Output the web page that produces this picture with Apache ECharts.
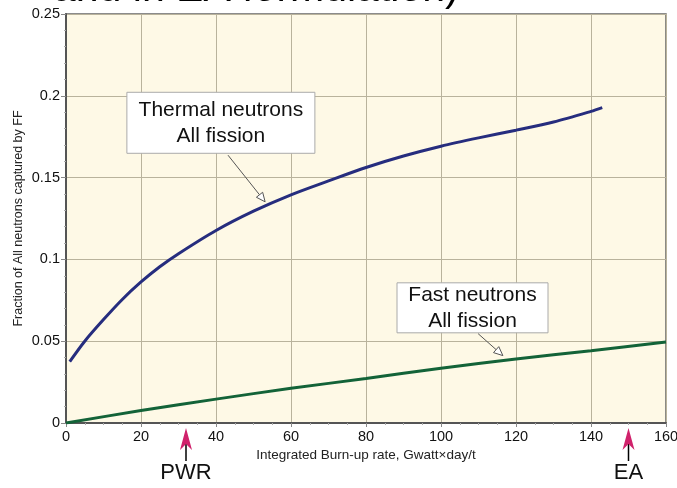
<!DOCTYPE html>
<html><head><meta charset="utf-8">
<script src="https://cdn.jsdelivr.net/npm/echarts@6/dist/echarts.min.js"></script>
<style>html,body{margin:0;padding:0;background:#fff}#c{width:677px;height:488px}</style>
</head><body><div id="c"></div>
<script>
// Data (burn-up GWd/t vs fraction of neutrons captured by FF)
var thermalX = [1, 5, 10, 15, 20, 25, 30, 40, 50, 60, 70, 80, 90, 100, 110, 120, 130, 140, 143];
var thermalY = [0.0375, 0.050, 0.0632, 0.0755, 0.0862, 0.0955, 0.1035, 0.1177, 0.1295, 0.1395, 0.148, 0.1562, 0.1632, 0.1692, 0.1743, 0.179, 0.184, 0.1905, 0.1928];
var fastX = [0, 20, 40, 60, 80, 100, 120, 140, 160];
var fastY = [0, 0.0076, 0.0146, 0.0212, 0.0272, 0.0335, 0.0391, 0.0442, 0.0495];
var xTicks = [0, 20, 40, 60, 80, 100, 120, 140, 160];
var yTicks = [0, 0.05, 0.1, 0.15, 0.2, 0.25];
var reactorNames = ['PWR', 'EA'];
var reactorBurnup = [32, 150];
var noteTexts = ['Thermal neutrons\nAll fission', 'Fast neutrons\nAll fission'];
var noteCenters = [[41.3, 0.1835], [108.4, 0.0704]];
var noteArrowFrom = [[43.2, 0.1637], [109.9, 0.0546]];
var noteArrowTo = [[53.1, 0.1352], [116.5, 0.0412]];

function zip(a, b) { return a.map(function (v, i) { return [v, b[i]]; }); }

var chart = echarts.init(document.getElementById('c'));
var FONT = 'Liberation Sans, Arial, sans-serif';
chart.setOption({
  animation: false,
  backgroundColor: '#ffffff',
  grid: { left: 66, right: 11, top: 14, bottom: 65, outerBoundsMode: 'none', containLabel: false,
    show: true, backgroundColor: '#fef9e6', borderColor: '#666', borderWidth: 1.5 },
  xAxis: {
    type: 'value', min: xTicks[0], max: xTicks[xTicks.length - 1], interval: 20,
    name: 'Integrated Burn-up rate, Gwatt×day/t', nameLocation: 'middle', nameGap: 25, nameMoveOverlap: false,
    nameTextStyle: { fontFamily: FONT, fontSize: 13.5, color: '#222' },
    axisLine: { show: true, onZero: false, lineStyle: { color: '#555', width: 2 } },
    axisTick: { show: true, length: 4, lineStyle: { color: '#888' } },
    minorTick: { show: true, splitNumber: 4, length: 2, lineStyle: { color: '#aaa' } },
    axisLabel: { fontFamily: FONT, fontSize: 14.5, color: '#111', margin: 6 },
    splitLine: { show: true, lineStyle: { color: '#b9b39c', width: 1 } }
  },
  yAxis: {
    type: 'value', min: yTicks[0], max: yTicks[yTicks.length - 1], interval: 0.05,
    name: 'Fraction of All neutrons captured by FF', nameLocation: 'middle', nameGap: 41, nameMoveOverlap: false,
    nameTextStyle: { fontFamily: FONT, fontSize: 12.5, color: '#222' },
    axisLine: { show: true, onZero: false, lineStyle: { color: '#555', width: 2 } },
    axisTick: { show: true, length: 5, lineStyle: { color: '#888' } },
    minorTick: { show: true, splitNumber: 5, length: 2, lineStyle: { color: '#aaa' } },
    axisLabel: { fontFamily: FONT, fontSize: 14.5, color: '#111', margin: 6,
      formatter: function (v) { return String(+v.toFixed(2)); } },
    splitLine: { show: true, lineStyle: { color: '#b9b39c', width: 1 } }
  },
  series: [
    { type: 'line', data: zip(thermalX, thermalY), smooth: 0.3, symbol: 'none',
      lineStyle: { color: '#262d7e', width: 3 } },
    { type: 'line', data: zip(fastX, fastY), smooth: 0.3, symbol: 'none',
      lineStyle: { color: '#136338', width: 3 } }
  ]
});

function px(p) { return chart.convertToPixel({ gridIndex: 0 }, p); }
var g = [];
// partially visible title at top
g.push({ type: 'text', x: 53, y: 10, style: { text: 'and in EA formulation)', font: '41px ' + FONT, fill: '#000', verticalAlign: 'bottom' }, z: 10 });
// note boxes
var boxSizes = [[188, 61], [151, 50]];
noteTexts.forEach(function (t, i) {
  var c = px(noteCenters[i]);
  var w = boxSizes[i][0], h = boxSizes[i][1];
  g.push({ type: 'rect', shape: { x: c[0] - w / 2, y: c[1] - h / 2, width: w, height: h },
    style: { fill: '#fff', stroke: '#aaa', lineWidth: 1 }, z: 20 });
  g.push({ type: 'text', x: c[0], y: c[1], style: { text: t, font: '21px ' + FONT, fill: '#111', align: 'center', verticalAlign: 'middle', lineHeight: 26 }, z: 21 });
  var a = px(noteArrowFrom[i]), b = px(noteArrowTo[i]);
  var dx = b[0] - a[0], dy = b[1] - a[1], L = Math.sqrt(dx * dx + dy * dy);
  var ux = dx / L, uy = dy / L, hl = 9, hw = 4;
  var bx = b[0] - ux * hl, by = b[1] - uy * hl;
  g.push({ type: 'line', shape: { x1: a[0], y1: a[1], x2: bx, y2: by }, style: { stroke: '#555', lineWidth: 1 }, z: 20 });
  g.push({ type: 'polygon', shape: { points: [[b[0], b[1]], [bx - uy * hw, by + ux * hw], [bx + uy * hw, by - ux * hw]] },
    style: { fill: '#fff', stroke: '#555', lineWidth: 1 }, z: 20 });
});
// reactor markers below axis
reactorNames.forEach(function (n, i) {
  var p = px([reactorBurnup[i], 0]);
  var x = p[0], y0 = p[1] + 5;
  g.push({ type: 'line', shape: { x1: x, y1: y0 + 12, x2: x, y2: y0 + 33 }, style: { stroke: '#000', lineWidth: 1.5 }, z: 20 });
  g.push({ type: 'polygon', shape: { points: [[x, y0], [x + 6, y0 + 22], [x, y0 + 16], [x - 6, y0 + 22]] },
    style: { fill: '#d0226b' }, z: 21 });
  g.push({ type: 'text', x: x, y: y0 + 45, style: { text: n, font: '22px ' + FONT, fill: '#111', align: 'center', verticalAlign: 'middle' }, z: 21 });
});
chart.setOption({ graphic: g });
</script>
</body></html>
